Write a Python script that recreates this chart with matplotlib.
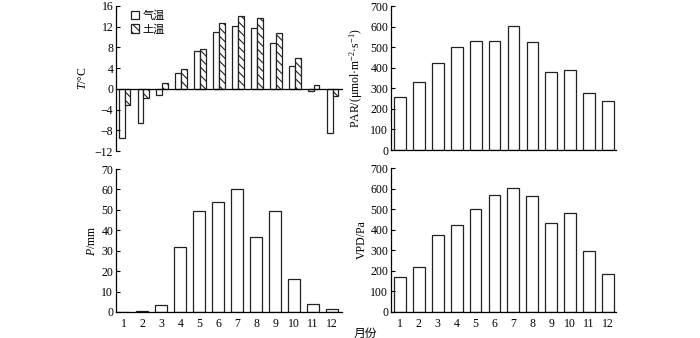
import matplotlib
matplotlib.use("Agg")
import matplotlib.pyplot as plt
import numpy as np
from matplotlib.patches import Patch

months = list(range(1, 13))
month_labels = [str(m) for m in months]
air_temp = [-9.4, -6.5, -1.2, 3.1, 7.4, 10.9, 12.1, 11.7, 8.9, 4.5, -0.5, -8.5]
soil_temp = [-3.1, -1.8, 1.2, 3.8, 7.6, 12.8, 14.1, 13.6, 10.7, 5.9, 0.7, -1.4]
par = [256, 330, 421, 501, 530, 530, 601, 527, 378, 391, 276, 238]
precip = [0.0, 0.5, 3.2, 32.0, 49.2, 53.8, 60.0, 36.8, 49.4, 16.2, 3.7, 1.5]
vpd = [168, 219, 374, 423, 501, 567, 603, 564, 433, 483, 298, 183]

plt.rcParams['font.family'] = ['Liberation Serif', 'Noto Sans CJK SC']
plt.rcParams['mathtext.fontset'] = 'custom'
plt.rcParams['mathtext.rm'] = 'Liberation Serif'
plt.rcParams['mathtext.it'] = 'Liberation Serif:italic'
plt.rcParams['hatch.linewidth'] = 0.8
CJK = ['Noto Sans CJK SC']
fs = 8.5

fig = plt.figure(figsize=(7, 3.38), dpi=100)
W, H = 700, 338
def ax_at(l, t, r, b):
    return fig.add_axes([l / W, 1 - b / H, (r - l) / W, (b - t) / H])

ax1 = ax_at(116, 6, 342, 151)
ax2 = ax_at(391, 6, 616, 150)
ax3 = ax_at(116, 169, 342, 312)
ax4 = ax_at(391, 168, 616, 312)

x = np.array(months)
edge = dict(facecolor='white', edgecolor='#222222', linewidth=0.9)

def style(ax):
    for s in ['top', 'right']:
        ax.spines[s].set_visible(False)
    ax.tick_params(axis='y', direction='in', length=3, labelsize=fs, pad=2)
    ax.tick_params(axis='x', length=0, labelsize=fs, pad=4)
    for s in ax.spines.values():
        s.set_linewidth(0.9)

# Temperature
bw = 0.31
ax1.bar(x - bw / 2, air_temp, width=bw, **edge)
ax1.bar(x + bw / 2, soil_temp, width=bw, hatch='\\\\\\\\', **edge)
ax1.set_ylim(-12, 16)
ax1.set_yticks(range(-12, 17, 4))
ax1.set_yticklabels(['\u221212', '\u22128', '\u22124', '0', '4', '8', '12', '16'])
ax1.set_xlim(0.55, 12.5)
style(ax1)
ax1.spines['bottom'].set_position(('data', 0))
ax1.set_xticks([])
ax1.set_ylabel(r'$T$/°C', fontsize=fs, labelpad=4)
handles = [Patch(**edge), Patch(hatch='\\\\\\\\', **edge)]
leg = ax1.legend(handles, ['气温', '土温'], loc='upper left', bbox_to_anchor=(0.02, 1.04),
                 frameon=False, handlelength=0.8, handleheight=0.8, handletextpad=0.3,
                 labelspacing=0.3, prop={'family': CJK, 'size': 8})

# PAR
ax2.bar(x, par, width=0.62, **edge)
ax2.set_ylim(0, 700)
ax2.set_yticks(range(0, 701, 100))
ax2.set_xlim(0.52, 12.42)
style(ax2)
ax2.set_xticks([])
ax2.set_ylabel('PAR/(μmol·m$^{-2}$·s$^{-1}$)', fontsize=fs, labelpad=4)

# Precipitation
ax3.bar(x, precip, width=0.63, **edge)
ax3.set_ylim(0, 70)
ax3.set_yticks(range(0, 71, 10))
ax3.set_xlim(0.61, 12.53)
style(ax3)
ax3.set_xticks(x)
ax3.set_xticklabels(month_labels)
ax3.set_ylabel(r'$P$/mm', fontsize=fs, labelpad=2)

# VPD
ax4.bar(x, vpd, width=0.62, **edge)
ax4.set_ylim(0, 700)
ax4.set_yticks(range(0, 701, 100))
ax4.set_xlim(0.52, 12.44)
style(ax4)
ax4.set_xticks(x)
ax4.set_xticklabels(month_labels)
ax4.set_ylabel('VPD/Pa', fontsize=fs, labelpad=2)

fig.text(365 / W, 1 - 333 / H, '月份', ha='center', va='center', fontsize=8.5, family=CJK)

fig.savefig('out.png', dpi=100)
